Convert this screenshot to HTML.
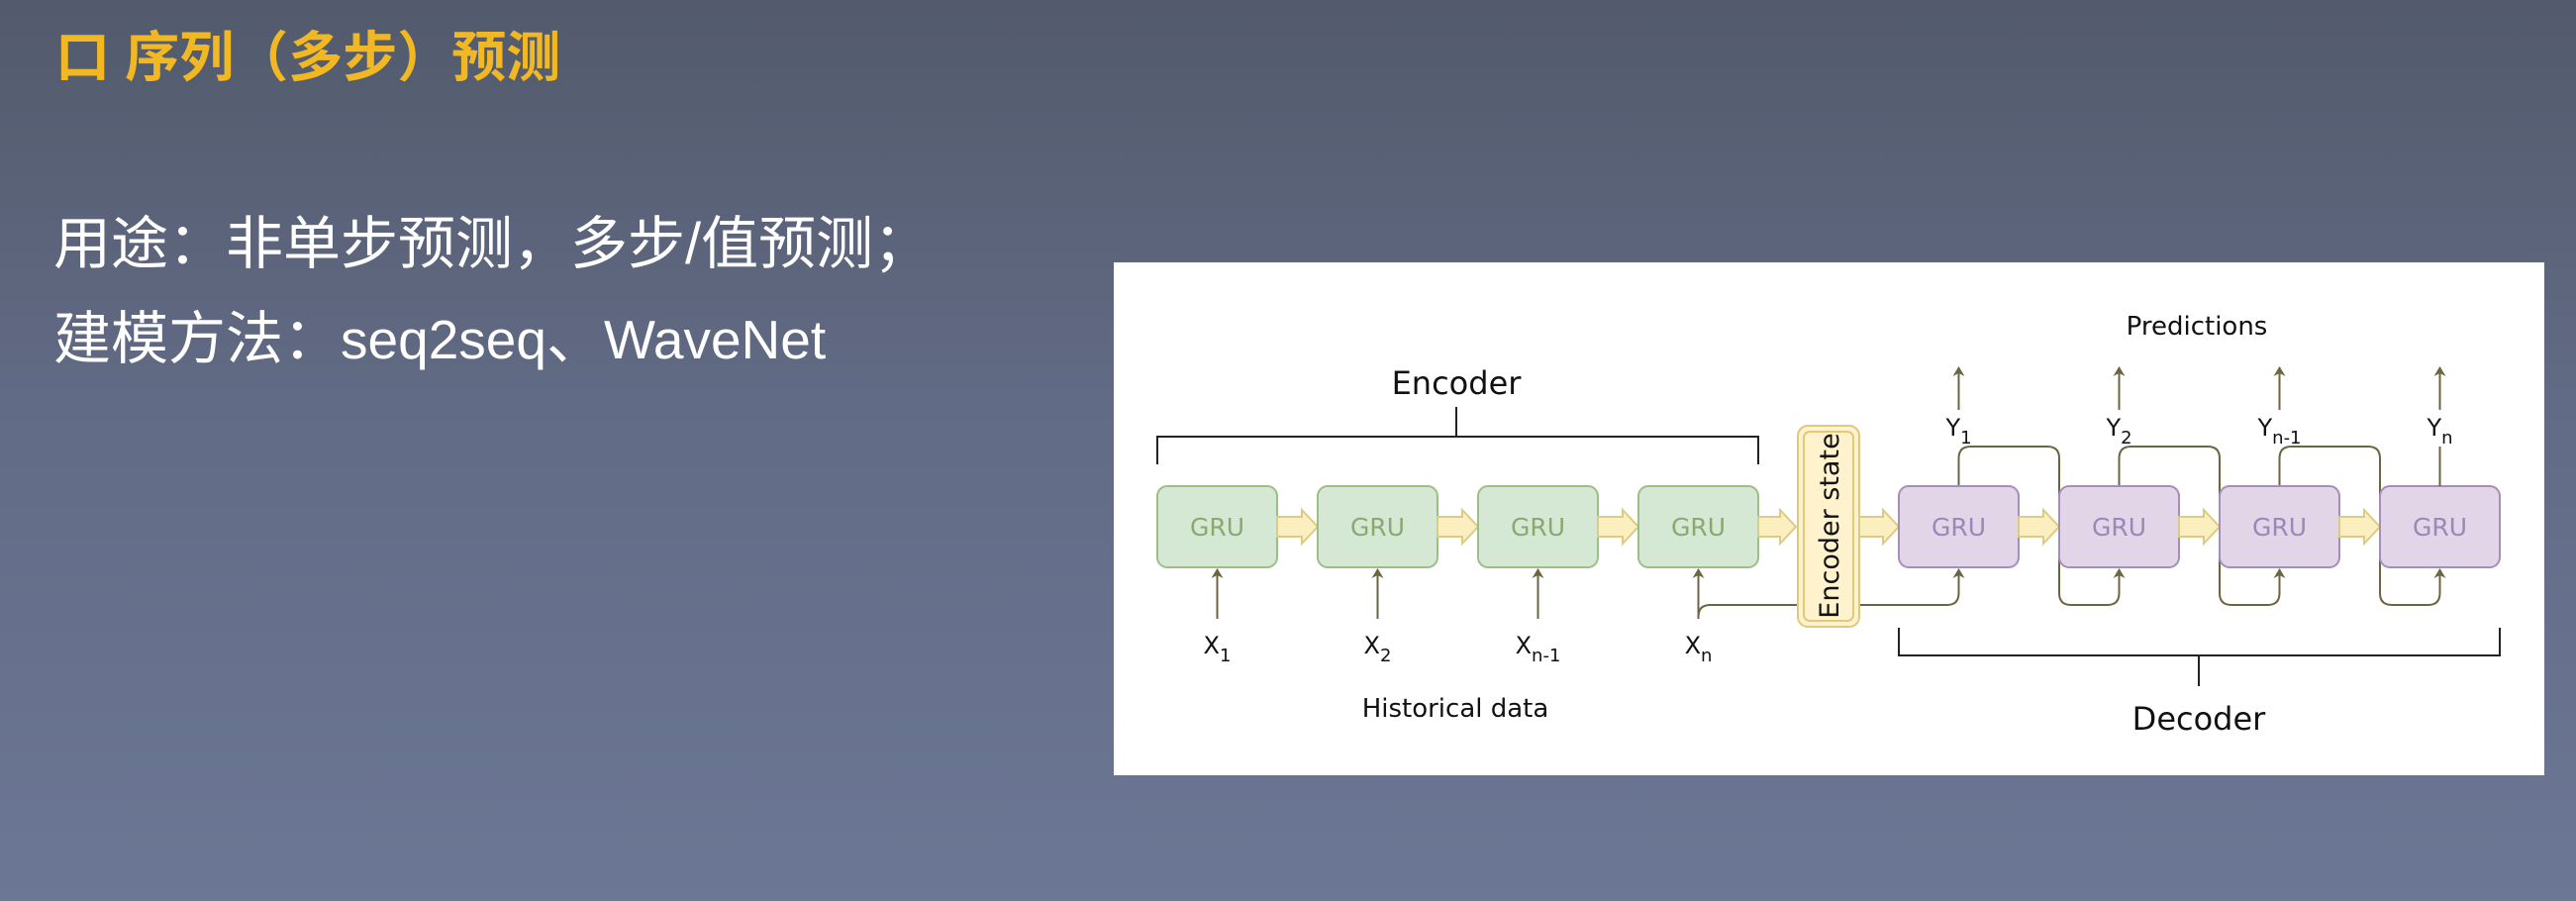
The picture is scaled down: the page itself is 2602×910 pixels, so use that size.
<!DOCTYPE html>
<html><head><meta charset="utf-8"><style>
html,body{margin:0;padding:0;width:2602px;height:910px;overflow:hidden}
body{background:linear-gradient(180deg,#525a6c 0%,#626b85 45%,#6c7795 100%);font-family:"Liberation Sans","Noto Sans CJK SC",sans-serif;position:relative}
.t{position:absolute;white-space:nowrap}
</style></head><body>
<div class="t" style="left:56px;top:28px;font-size:55px;font-weight:bold;color:#f2b824;line-height:60px">口 序列（多步）预测</div>
<div class="t" style="left:54px;top:214px;font-size:58px;color:#fff;line-height:66px">用途：非单步预测，多步/值预测；</div>
<div class="t" style="left:54px;top:310px;font-size:58px;color:#fff;line-height:66px">建模方法：<span style="font-size:55px">seq2seq</span>、<span style="font-size:55px">WaveNet</span></div>
<svg width="2602" height="910" style="position:absolute;left:0;top:0" font-family="DejaVu Sans, Liberation Sans, sans-serif">
<defs>
<marker id="ah" markerWidth="10" markerHeight="12" refX="9" refY="6" orient="auto" markerUnits="userSpaceOnUse" viewBox="0 0 10 12"><path d="M0,0 L10,6 L0,12 L3,6 Z" fill="#6b6540"/></marker>
</defs>
<rect x="1125" y="265" width="1445" height="518" fill="#fff"/>
<g id="g"></g>
</svg>
<script>
const encX=[1169,1331,1493,1655];
const decX=[1918,2080,2242,2404];
const xLabels=[["X","1"],["X","2"],["X","n-1"],["X","n"]];
const yLabels=[["Y","1"],["Y","2"],["Y","n-1"],["Y","n"]];
const BW=121,BY=491,BH=82,CY=532;
const NS="http://www.w3.org/2000/svg";
const g=document.getElementById('g');
function mk(tag,attrs,parent){const e=document.createElementNS(NS,tag);for(const k in attrs)e.setAttribute(k,attrs[k]);(parent||g).appendChild(e);return e;}
function txt(x,y,s,sub,size,name){const t=mk('text',{x:x,y:y,'font-size':size,'text-anchor':'middle',fill:'#111'});t.appendChild(document.createTextNode(s));if(sub){const ts=mk('tspan',{'font-size':size*0.75,dy:8},t);ts.textContent=sub;}return t;}
function fat(x1,x2,name){const h=10,hh=17,hl=16;const p=mk('path',{d:`M${x1},${CY-h} L${x2-hl},${CY-h} L${x2-hl},${CY-hh} L${x2},${CY} L${x2-hl},${CY+hh} L${x2-hl},${CY+h} L${x1},${CY+h} Z`,fill:'#fbefc0',stroke:'#dccb84','stroke-width':2});}
const lc='#6b6540';
for(let i=0;i<3;i++){const a=decX[i]+BW/2,b=decX[i+1],c=decX[i+1]+BW/2,r=12;
 const p=mk('path',{d:`M${a},${BY} L${a},${451+r} Q${a},451 ${a+r},451 L${b-r},451 Q${b},451 ${b},${451+r} L${b},${611-r} Q${b},611 ${b+r},611 L${c-r},611 Q${c},611 ${c},${611-r} L${c},${BY+BH+2}`,fill:'none',stroke:lc,'stroke-width':2,'marker-end':'url(#ah)'});
 }
{const a=encX[3]+BW/2,c=decX[0]+BW/2,r=12;const p=mk('path',{d:`M${a},625 L${a},${611+r} Q${a},611 ${a+r},611 L${c-r},611 Q${c},611 ${c},${611-r} L${c},${BY+BH+2}`,fill:'none',stroke:lc,'stroke-width':2,'marker-end':'url(#ah)'});}
encX.forEach((x,i)=>{const r=mk('rect',{x:x,y:BY,width:BW,height:BH,rx:10,fill:'#d5e8d4',stroke:'#9fbd86','stroke-width':2});
 const t=mk('text',{x:x+BW/2,y:CY+9,'font-size':25,'text-anchor':'middle',fill:'#8aa870'});t.textContent='GRU';
 const a=mk('line',{x1:x+BW/2,y1:625,x2:x+BW/2,y2:BY+BH+2,stroke:lc,'stroke-width':2,'marker-end':'url(#ah)'});
 txt(x+BW/2,660,xLabels[i][0],xLabels[i][1],24,'input-label-'+(i+1));
 if(i<3)fat(x+BW,encX[i+1],'state-arrow');});
fat(encX[3]+BW,1814,'state-arrow');
{const r=mk('rect',{x:1816,y:430,width:62,height:203,rx:10,fill:'#fff2cc',stroke:'#e0c97a','stroke-width':2});
 mk('rect',{x:1822,y:436,width:50,height:191,rx:6,fill:'none',stroke:'#e0c97a','stroke-width':2});
 const t=mk('text',{x:0,y:0,'font-size':27,'text-anchor':'middle',fill:'#111',transform:'translate(1857,531) rotate(-90)'});t.textContent='Encoder state';}
fat(1878,decX[0],'state-arrow');
decX.forEach((x,i)=>{const r=mk('rect',{x:x,y:BY,width:BW,height:BH,rx:10,fill:'#e1d5e7',stroke:'#a58fba','stroke-width':2});
 const t=mk('text',{x:x+BW/2,y:CY+9,'font-size':25,'text-anchor':'middle',fill:'#9a88b8'});t.textContent='GRU';
 if(i==3){mk('line',{x1:x+BW/2,y1:BY,x2:x+BW/2,y2:451,stroke:lc,'stroke-width':2});}
 const a=mk('line',{x1:x+BW/2,y1:414,x2:x+BW/2,y2:371,stroke:lc,'stroke-width':2,'marker-end':'url(#ah)'});
 txt(x+BW/2,440,yLabels[i][0],yLabels[i][1],24,'output-label-'+(i+1));
 if(i<3)fat(x+BW,decX[i+1],'state-arrow');});
{const p=mk('path',{d:'M1169,469 L1169,441 L1776,441 L1776,469 M1471,441 L1471,411',fill:'none',stroke:'#222','stroke-width':2});
 const q=mk('path',{d:'M1918,634 L1918,662 L2525,662 L2525,634 M2221,662 L2221,693',fill:'none',stroke:'#222','stroke-width':2});}
txt(1471,398,'Encoder','',32,'encoder-title');
txt(2221,737,'Decoder','',32,'decoder-title');
txt(2219,338,'Predictions','',26,'predictions-title');
txt(1470,724,'Historical data','',26,'historical-data-title');
</script>
</body></html>
